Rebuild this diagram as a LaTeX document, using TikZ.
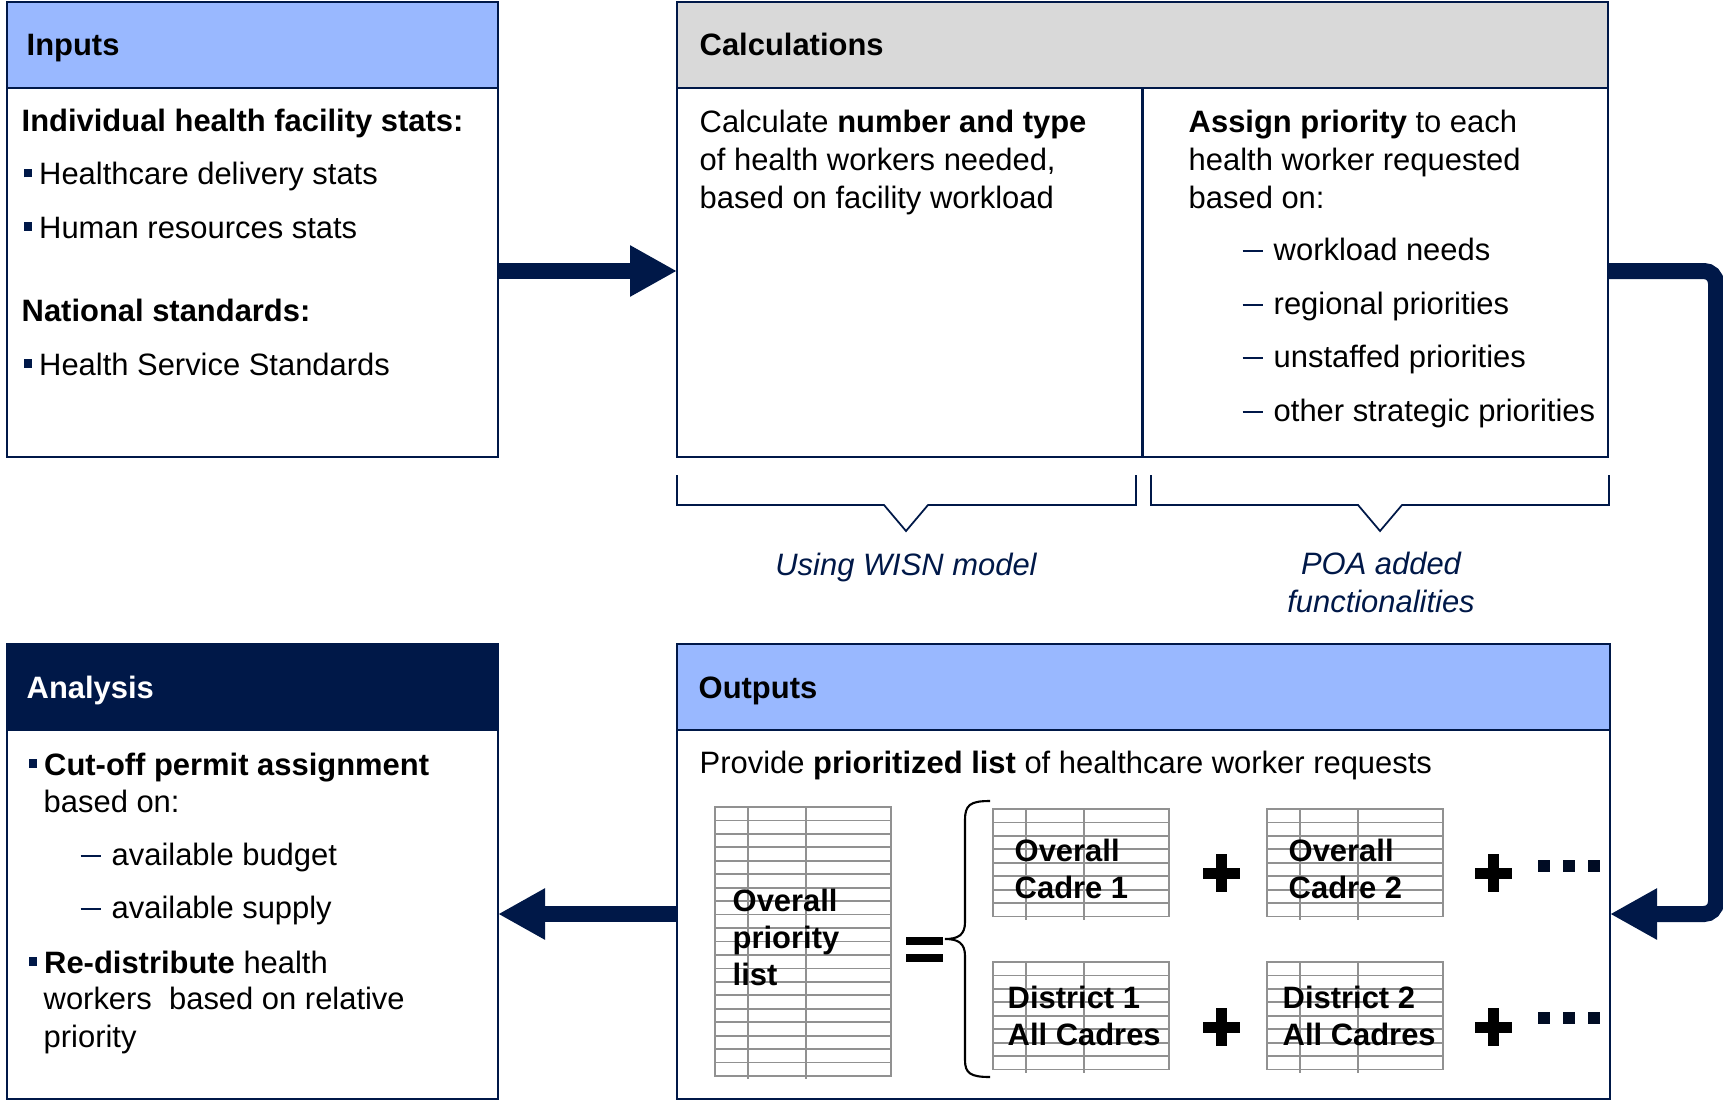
\documentclass[tikz,border=0pt]{standalone}
\usepackage{fontspec}
\setmainfont{Liberation Sans}
\usepackage{xcolor}
\usepackage{tikz}
\usetikzlibrary{arrows.meta, positioning}

\definecolor{navy}{RGB}{0,24,72}
\definecolor{hdrblue}{RGB}{153,184,255}
\definecolor{hdrgray}{RGB}{217,217,217}
\definecolor{gridgray}{RGB}{145,145,145}

% Ký hiệu đầu dòng: ô vuông nhỏ và gạch ngang màu xanh đậm
\newcommand{\sqbul}{\textcolor{navy}{\rule[0.75mm]{0.85mm}{0.85mm}}\hspace{0.7mm}}
\newcommand{\navydash}{\textcolor{navy}{\rule[0.8mm]{2mm}{0.22mm}}\hspace{1.1mm}}

% Bảng tính nhỏ: góc trên trái (#1,#2), số hàng #3
\newcommand{\sheet}[3]{%
  \draw[gridline] (#1,#2) rectangle ({#1+176},{#2+#3*13.45});
  \foreach \i in {1,...,#3}
    \draw[gridline] (#1,{#2+\i*13.45}) -- ({#1+176},{#2+\i*13.45});
  \draw[gridline] ({#1+33},#2) -- ({#1+33},{#2+#3*13.45+3});
  \draw[gridline] ({#1+91},#2) -- ({#1+91},{#2+#3*13.45+3});
}

\begin{document}
\begin{tikzpicture}[x=0.1mm, y=-0.1mm,
    frame/.style={draw=navy, line width=0.6pt, rectangle, inner sep=0pt, outer sep=0pt, minimum height=45.5mm},
    headbar/.style={draw=navy, line width=0.6pt},
    txt/.style={anchor=base west, inner sep=0pt, align=left, font=\fontsize{8.8}{10.7}\selectfont},
    hdr/.style={txt, font=\fontsize{8.8}{10.7}\selectfont\bfseries},
    tbl/.style={txt, font=\fontsize{8.8}{10.4}\selectfont\bfseries},
    note/.style={anchor=base, inner sep=0pt, align=center, text=navy, font=\fontsize{8.8}{10.6}\selectfont\itshape},
    flow/.style={draw=navy, line width=1.6mm, -{Triangle[length=4.7mm, width=4.8mm]}},
    gridline/.style={draw=gridgray, line width=0.5pt},
    bracket/.style={draw=navy, line width=0.5pt}]

    \useasboundingbox (0,0) rectangle (1723,1102);

    % =================================================================
    % 1. BỐN KHỐI CHÍNH VÀ THANH TIÊU ĐỀ
    % =================================================================
    \node[frame, minimum width=49.1mm] (inputs) at (252.5,229.5) {};
    \node[frame, minimum width=93.1mm] (calc) at (1142.5,229.5) {};
    \node[frame, minimum width=49.1mm] (analysis) at (252.5,871.5) {};
    \node[frame, minimum width=93.3mm] (outputs) at (1143.5,871.5) {};

    \draw[headbar, fill=hdrblue] (inputs.north west) rectangle ([yshift=-8.6mm]inputs.north east);
    \draw[headbar, fill=hdrgray] (calc.north west) rectangle ([yshift=-8.6mm]calc.north east);
    \draw[headbar, fill=navy] (analysis.north west) rectangle ([yshift=-8.6mm]analysis.north east);
    \draw[headbar, fill=hdrblue] (outputs.north west) rectangle ([yshift=-8.6mm]outputs.north east);
    \draw[headbar] ([yshift=-8.6mm]calc.north) -- (calc.south);

    \node[hdr] (inputshd) at (26,56) {Inputs};
    \node[hdr] (calchd) at (699,56) {Calculations};
    \node[hdr, text=white] (analysishd) at (26,698) {Analysis};
    \node[hdr] (outputshd) at (698,698) {Outputs};

    % =================================================================
    % 2. NỘI DUNG KHỐI INPUTS VÀ CALCULATIONS
    % =================================================================
    \node[hdr] (facstats) at (21,132) {Individual health facility stats:};
    \node[txt] (delivery) at (23,185) {\sqbul Healthcare delivery stats};
    \node[txt] (hrstats) at (23,238) {\sqbul Human resources stats};
    \node[hdr] (natstd) at (21,321) {National standards:};
    \node[txt] (hss) at (23,375) {\sqbul Health Service Standards};

    % (nút nhiều dòng: điểm neo base nằm ở dòng cuối)
    \node[txt] (numtype) at (699,208) {Calculate \textbf{number and type}\\of health workers needed,\\based on facility workload};
    \node[txt] (assign) at (1188,208) {\textbf{Assign priority} to each\\health worker requested\\based on:};
    \foreach \yy/\crit [count=\k] in {260/workload needs, 314/regional priorities,
        367/unstaffed priorities, 421/other strategic priorities}
        \node[txt] (crit\k) at (1242,\yy) {\navydash\crit};

    % Ngoặc dưới khối Calculations và chú thích
    \draw[bracket] (677,475) -- (677,505) -- (884,505) -- (906,531) -- (928,505) -- (1136,505) -- (1136,475);
    \draw[bracket] (1151,475) -- (1151,505) -- (1358,505) -- (1380,531) -- (1402,505) -- (1609,505) -- (1609,475);
    \node[note] (wisn) at (906,575) {Using WISN model};
    \node[note] (poa) at (1381,612) {POA added\\functionalities};

    % =================================================================
    % 3. KHỐI OUTPUTS: CÁC BẢNG DANH SÁCH
    % =================================================================
    \node[txt] (provide) at (699,773) {Provide \textbf{prioritized list} of healthcare worker requests};

    \sheet{715}{807}{20}
    \sheet{993}{809}{8}
    \sheet{1267}{809}{8}
    \sheet{993}{962}{8}
    \sheet{1267}{962}{8}

    \node[tbl] (overall) at (732,985) {Overall\\priority\\list};
    \node[tbl] (cadre1) at (1014,898) {Overall\\Cadre 1};
    \node[tbl] (cadre2) at (1288,898) {Overall\\Cadre 2};
    \node[tbl] (dist1) at (1007,1045) {District 1\\All Cadres};
    \node[tbl] (dist2) at (1282,1045) {District 2\\All Cadres};

    % Dấu bằng, ngoặc nhọn, dấu cộng và ba chấm
    \fill (906,937) rectangle (943,945);
    \fill (906,954) rectangle (943,962);
    \draw[line width=0.6pt] (990,801) .. controls (970,801) and (965,805) .. (965,820) -- (965,922)
        .. controls (965,935) and (958,939) .. (945,939) .. controls (958,939) and (965,943) .. (965,956)
        -- (965,1060) .. controls (965,1073) and (970,1077) .. (990,1077);
    \foreach \px/\py in {1221/873, 1493/873, 1221/1027, 1493/1027} {
        \fill ({\px-18.5},{\py-5.5}) rectangle ({\px+18.5},{\py+5.5});
        \fill ({\px-5.5},{\py-19}) rectangle ({\px+5.5},{\py+19});
    }
    \foreach \py in {866,1018}
        \foreach \px in {1544,1569,1594}
            \fill[navy!50!black] ({\px-6},{\py-6}) rectangle ({\px+6},{\py+6});

    % =================================================================
    % 4. NỘI DUNG KHỐI ANALYSIS
    % =================================================================
    \node[txt] (cutoff) at (28,775) {\sqbul\textbf{Cut-off permit assignment}};
    \node[txt] (basedon) at (43,812) {based on:};
    \node[txt] (budget) at (80,865) {\navydash available budget};
    \node[txt] (supply) at (80,918) {\navydash available supply};
    \node[txt] (redist) at (28,973) {\sqbul\textbf{Re-distribute} health};
    \node[txt] (workers) at (43,1047) {workers\ \ based on relative\\priority};

    % =================================================================
    % 5. CÁC MŨI TÊN NỐI GIỮA CÁC KHỐI
    % =================================================================
    \coordinate (toprow) at (0,271);
    \coordinate (lowrow) at (0,914);
    \coordinate (rail) at (1716,0);
    \draw[flow] (inputs.east |- toprow) -- (calc.west |- toprow);
    \draw[flow, rounded corners=1.2mm] (calc.east |- toprow) -| (rail |- lowrow) -- (outputs.east |- lowrow);
    \draw[flow] (outputs.west |- lowrow) -- (analysis.east |- lowrow);

\end{tikzpicture}
\end{document}
